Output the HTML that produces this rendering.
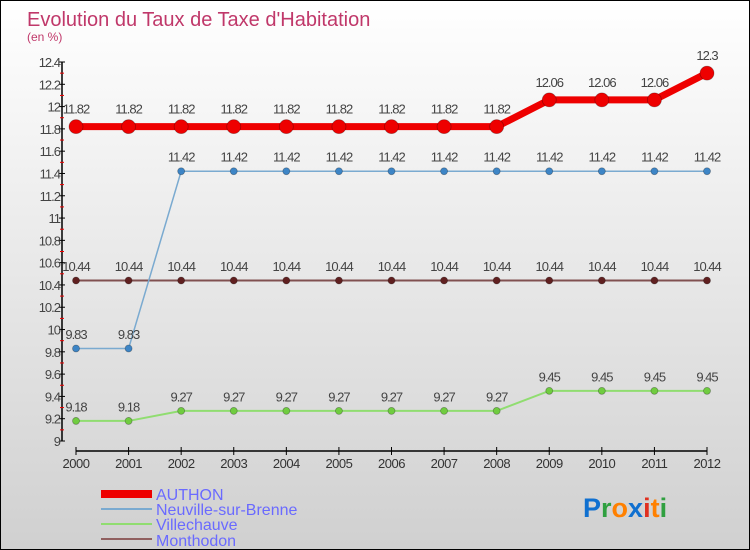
<!DOCTYPE html>
<html><head><meta charset="utf-8"><style>
body{margin:0}
#c{width:750px;height:550px;position:relative;overflow:hidden;box-sizing:border-box;border:1px solid #000;background:linear-gradient(#ffffff,#d0d0d0);font-family:"Liberation Sans",sans-serif}
</style></head><body>
<div id="c">
<svg width="750" height="550" style="position:absolute;left:0;top:0" id="svg">
<text x="26" y="25" font-size="20" fill="#c0386a">Evolution du Taux de Taxe d'Habitation</text>
<text x="26" y="40" font-size="12" fill="#c0386a">(en %)</text>
<g id="axes"></g><g id="series"></g>
<g>
<rect x="100" y="489" width="51" height="8" fill="#e00"/>
<text x="155" y="499" font-size="16" fill="#6a6aff">AUTHON</text>
<rect x="100" y="507" width="51" height="2" fill="#7aaad0"/>
<text x="155" y="514" font-size="16" fill="#6a6aff">Neuville-sur-Brenne</text>
<rect x="100" y="522" width="51" height="2" fill="#90dd70"/>
<text x="155" y="529" font-size="16" fill="#6a6aff">Villechauve</text>
<rect x="100" y="537" width="51" height="2" fill="#906060"/>
<text x="155" y="545" font-size="16" fill="#6a6aff">Monthodon</text>
</g>
<text x="582" y="516" font-size="27" font-weight="bold"><tspan fill="#1070d0">P</tspan><tspan fill="#30a040">r</tspan><tspan fill="#ff8000">o</tspan><tspan fill="#1070d0">x</tspan><tspan fill="#e03020">i</tspan><tspan fill="#ff8000">t</tspan><tspan fill="#30a040">i</tspan></text>
</svg>
</div>
<script>
const years=[2000,2001,2002,2003,2004,2005,2006,2007,2008,2009,2010,2011,2012];
const authon=[11.82,11.82,11.82,11.82,11.82,11.82,11.82,11.82,11.82,12.06,12.06,12.06,12.3];
const neuville=[9.83,9.83,11.42,11.42,11.42,11.42,11.42,11.42,11.42,11.42,11.42,11.42,11.42];
const villechauve=[9.18,9.18,9.27,9.27,9.27,9.27,9.27,9.27,9.27,9.45,9.45,9.45,9.45];
const monthodon=[10.44,10.44,10.44,10.44,10.44,10.44,10.44,10.44,10.44,10.44,10.44,10.44,10.44];
const yTicks=[9,9.2,9.4,9.6,9.8,10,10.2,10.4,10.6,10.8,11,11.2,11.4,11.6,11.8,12,12.2,12.4];
const NS='http://www.w3.org/2000/svg';
const x=i=>75+i*(706-75)/(years.length-1);
const y=v=>440-(v-9)*(440-61)/3.4;
function mk(t,a,p){const e=document.createElementNS(NS,t);for(const k in a)e.setAttribute(k,a[k]);p.appendChild(e);return e;}
const ax=document.getElementById('axes');
const yl=mk('line',{x1:61,y1:y(12.4),x2:61,y2:440,stroke:'#000','stroke-width':1.5},ax);


yTicks.forEach((v,i)=>{
 mk('line',{x1:58,x2:64,y1:y(v),y2:y(v),stroke:'#000'},ax);
 if(i<yTicks.length-1)mk('line',{x1:59,x2:63,y1:y(v+0.1),y2:y(v+0.1),stroke:'#e00'},ax);
 const t=mk('text',{x:59,y:y(v)+5,'text-anchor':'end','font-size':13,fill:'#444','letter-spacing':'-1'},ax);
 t.textContent=String(v);
 
 
});
const xl=mk('line',{x1:x(0),x2:x(years.length-1),y1:450,y2:450,stroke:'#000','stroke-width':1.5},ax);


years.forEach((yr,i)=>{
 mk('line',{x1:x(i),x2:x(i),y1:446,y2:454,stroke:'#000'},ax);
 const t=mk('text',{x:x(i),y:467,'text-anchor':'middle','font-size':13,fill:'#333','letter-spacing':'-0.5'},ax);
 t.textContent=yr;
 
 
});
const sg=document.getElementById('series');
function series(vals,name,color,dot,w,r){
 const g=mk('g',{},sg);
 
 
 mk('polyline',{points:vals.map((v,i)=>x(i)+','+y(v)).join(' '),fill:'none',stroke:color,'stroke-width':w},g);
 vals.forEach((v,i)=>{
  const c=mk('circle',{cx:x(i),cy:y(v),r:r,fill:dot,stroke:'rgba(0,0,0,0.3)','stroke-width':0.8},g);
  
  
  const t=mk('text',{x:x(i),y:y(v)-(r+6),'text-anchor':'middle','font-size':13,fill:'#444','letter-spacing':'-1'},g);
  t.textContent=String(v);
  
  
 });
}
series(villechauve,'villechauve','#90dd70','#70cc40',2,3.5);
series(monthodon,'monthodon','#805050','#602020',2,3.5);
series(neuville,'neuville','#7aaad0','#3d85c6',1.5,3.5);
series(authon,'authon','#e00','#e00',7,7);
</script>
</body></html>
